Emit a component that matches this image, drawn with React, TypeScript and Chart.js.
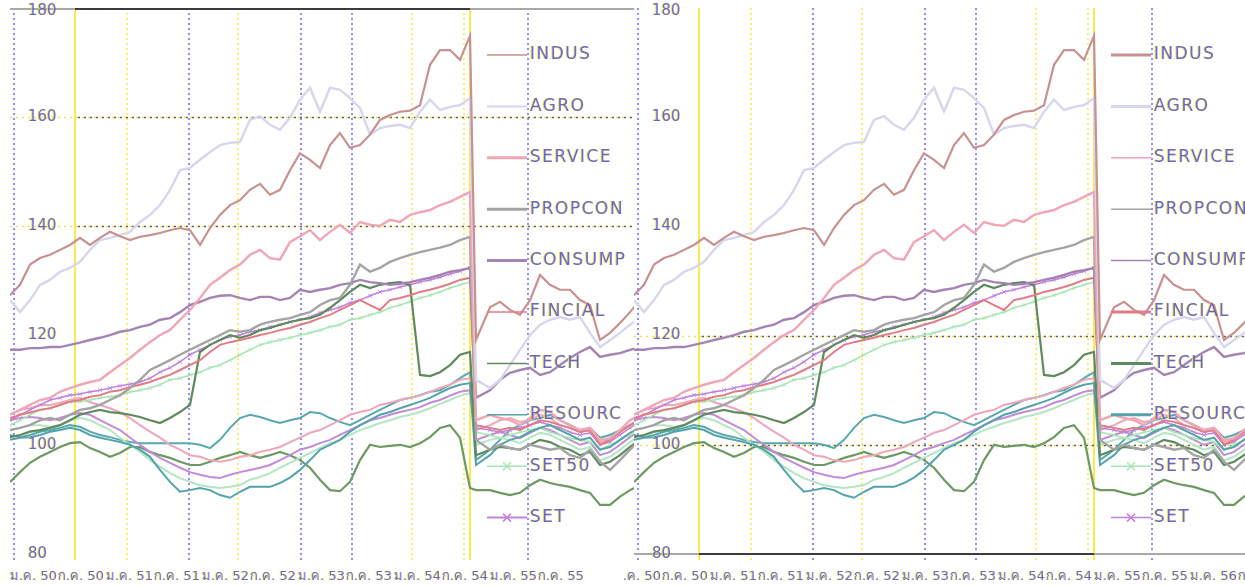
import React, { useEffect, useRef } from "react";
import { Chart, registerables } from "chart.js";

Chart.register(...registerables);

// trading-session index of every sample
const sessions: number[] = [
  0, 10, 20, 30, 40, 50, 60, 70, 80, 90, 100, 110, 120, 130, 140, 150, 160, 170, 180, 190,
  200, 210, 220, 230, 240, 250, 260, 270, 280, 290, 300, 310, 320, 330, 340, 350, 360, 370, 380, 390,
  400, 410, 420, 430, 440, 450, 460, 466, 480, 490, 500, 510, 520, 530, 540, 550, 560, 570, 580, 590,
  600, 610, 620, 630,
];

// legend shows the first ten series only
const seriesNames = ["INDUS", "AGRO", "SERVICE", "PROPCON", "CONSUMP", "FINCIAL", "TECH", "RESOURC", "SET50", "SET", "SET100", "sSET", "SETHD", "ENERG", "mai"];
const legendCount = 10;

const indus = [
  127.4, 129.3, 133.0, 134.2, 134.8, 135.7, 136.6, 137.9, 136.6, 137.9, 139.0, 138.2, 137.5, 138.1, 138.4, 138.8,
  139.3, 139.7, 139.3, 136.6, 139.7, 142.1, 143.9, 144.8, 146.7, 147.8, 145.8, 146.7, 150.3, 153.4, 152.2, 150.7,
  154.9, 157.1, 154.4, 154.9, 156.8, 159.5, 160.4, 161.0, 161.2, 162.2, 169.6, 172.3, 172.3, 170.5, 174.9, 119.2,
  125.2, 126.2, 124.7, 123.8, 126.5, 131.1, 129.3, 128.4, 128.4, 126.5, 125.6, 119.2, 120.5, 122.3, 124.3, 126.5,
];
const agro = [
  126.5, 124.3, 126.5, 129.3, 130.2, 131.7, 132.4, 133.5, 135.7, 137.5, 137.9, 138.4, 139.0, 140.8, 142.1, 143.9,
  146.7, 150.3, 150.7, 152.2, 153.6, 154.9, 155.3, 155.5, 159.5, 160.2, 158.6, 157.7, 159.9, 163.2, 165.4, 161.0,
  165.4, 165.0, 163.5, 161.7, 156.8, 158.0, 158.4, 158.6, 158.0, 161.0, 163.2, 161.3, 161.9, 162.2, 163.5, 111.9,
  110.4, 111.9, 114.6, 117.4, 120.1, 122.0, 122.9, 123.4, 122.9, 123.4, 120.5, 117.9, 119.2, 120.5, 122.0, 123.2,
];
const service = [
  105.5, 106.4, 107.3, 108.2, 108.6, 109.7, 110.4, 111.0, 111.5, 111.9, 113.3, 114.6, 115.9, 117.4, 118.8, 120.1,
  121.0, 122.9, 124.7, 126.9, 129.3, 130.6, 132.0, 133.0, 134.8, 135.7, 134.2, 133.9, 137.1, 138.2, 139.3, 137.5,
  139.0, 140.3, 138.8, 140.8, 140.3, 140.1, 141.2, 140.8, 142.1, 142.6, 143.0, 143.9, 144.5, 145.4, 146.3, 104.5,
  105.5, 104.9, 104.5, 103.6, 104.9, 106.4, 106.0, 104.5, 103.6, 102.7, 103.1, 100.9, 101.2, 102.7, 104.5, 105.5,
];
const propcon = [
  102.7, 103.1, 103.6, 104.5, 104.9, 104.5, 105.5, 106.4, 106.7, 107.3, 108.2, 109.1, 110.4, 111.9, 113.7, 114.6,
  115.5, 116.5, 117.4, 118.3, 119.2, 120.1, 121.0, 120.7, 121.0, 122.0, 122.5, 122.9, 123.2, 123.8, 124.3, 125.6,
  126.5, 126.9, 129.3, 133.0, 131.7, 132.4, 133.5, 134.2, 134.8, 135.3, 135.7, 136.1, 136.6, 137.5, 138.1, 100.9,
  99.1, 100.0, 99.4, 99.1, 100.0, 99.6, 99.1, 99.4, 98.1, 97.6, 99.1, 96.9, 95.4, 97.2, 99.1, 100.9,
];
const consump = [
  117.4, 117.4, 117.7, 117.7, 117.9, 117.9, 118.3, 118.7, 119.2, 119.6, 120.1, 120.7, 121.0, 121.6, 122.0, 122.9,
  123.2, 124.3, 125.6, 126.2, 126.9, 127.3, 127.4, 126.9, 126.5, 127.1, 127.1, 126.5, 126.9, 128.4, 128.0, 128.4,
  128.7, 129.3, 129.6, 130.2, 129.8, 129.6, 129.3, 129.5, 129.8, 130.2, 130.6, 131.1, 131.7, 132.0, 132.4, 108.6,
  110.0, 111.9, 113.2, 113.7, 114.1, 112.8, 113.3, 114.6, 115.9, 117.0, 117.9, 116.1, 116.5, 116.8, 117.4, 117.9,
];
const fincial = [
  104.9, 105.5, 105.9, 106.4, 106.7, 107.3, 107.9, 108.2, 108.8, 109.1, 109.7, 110.0, 110.6, 111.0, 111.5, 112.2,
  112.8, 113.7, 114.6, 115.5, 117.0, 118.3, 118.8, 119.2, 119.6, 120.1, 120.5, 121.0, 121.4, 122.0, 122.5, 123.2,
  123.8, 124.7, 125.6, 126.5, 125.6, 124.7, 126.5, 126.9, 127.4, 128.0, 128.4, 128.9, 129.5, 130.2, 130.6, 103.6,
  103.1, 102.7, 103.1, 102.7, 103.6, 104.5, 104.2, 103.6, 103.1, 102.3, 102.7, 100.0, 100.9, 102.3, 103.6, 104.5,
];
const tech = [
  101.4, 101.8, 102.4, 102.7, 103.1, 103.6, 104.5, 105.5, 106.0, 106.4, 106.0, 105.8, 105.5, 105.1, 104.5, 104.0,
  104.9, 106.0, 107.3, 117.0, 118.3, 119.2, 120.1, 119.6, 120.1, 121.0, 121.4, 122.0, 122.5, 122.9, 123.2, 123.8,
  125.1, 126.5, 128.0, 129.3, 128.7, 129.3, 129.6, 129.8, 129.3, 112.8, 112.6, 113.3, 114.6, 116.5, 117.0, 98.1,
  99.1, 99.6, 99.4, 99.1, 100.0, 100.9, 100.5, 99.6, 99.1, 98.1, 98.7, 96.3, 96.9, 98.1, 99.6, 100.9,
];
const resourc = [
  100.9, 101.3, 101.4, 101.8, 102.4, 102.7, 103.1, 102.7, 101.8, 101.3, 100.9, 100.5, 100.0, 99.1, 97.8, 95.4,
  93.2, 91.4, 91.7, 92.1, 91.7, 90.8, 90.3, 91.4, 92.3, 92.3, 92.3, 93.0, 94.0, 95.4, 97.2, 99.1,
  100.0, 100.9, 102.4, 103.6, 104.5, 105.5, 106.0, 106.7, 107.3, 107.9, 108.6, 109.5, 110.4, 111.0, 111.3, 96.3,
  98.1, 100.0, 100.9, 101.4, 102.4, 103.1, 103.6, 102.7, 101.8, 100.9, 101.3, 99.1, 99.6, 100.9, 102.2, 103.1,
];
const set50 = [
  103.6, 104.5, 105.5, 106.4, 106.7, 107.3, 107.9, 107.9, 108.2, 108.6, 108.8, 109.1, 109.7, 110.0, 110.4, 111.0,
  111.9, 112.2, 112.8, 113.3, 114.1, 114.6, 115.5, 116.5, 117.4, 118.3, 118.8, 119.2, 119.6, 120.1, 120.5, 121.0,
  121.6, 122.0, 122.9, 123.2, 123.8, 124.3, 125.1, 125.6, 126.2, 126.9, 127.4, 128.0, 128.7, 129.3, 129.8, 102.3,
  101.8, 101.2, 101.8, 102.3, 102.7, 103.1, 102.3, 101.8, 101.2, 100.9, 100.5, 99.1, 100.0, 100.9, 101.8, 102.7,
];
const setIdx = [
  104.5, 105.5, 106.4, 107.3, 108.2, 108.6, 109.1, 109.3, 109.7, 110.0, 110.4, 110.8, 111.1, 111.5, 112.2, 113.3,
  114.1, 115.2, 116.5, 117.4, 118.3, 119.2, 119.8, 120.1, 120.7, 121.0, 121.6, 122.0, 122.5, 122.9, 123.4, 124.2,
  124.7, 125.2, 126.0, 126.5, 127.3, 128.0, 128.4, 128.9, 129.3, 129.8, 130.2, 130.7, 131.3, 131.8, 132.4, 103.1,
  102.7, 102.3, 102.7, 103.1, 103.6, 104.2, 103.6, 103.1, 102.3, 101.8, 102.2, 100.0, 100.5, 101.8, 103.1, 104.2,
];
const set100 = [
  105.6, 106.4, 106.7, 107.3, 107.3, 107.7, 108.2, 108.6, 107.8, 107.3, 106.7, 106.0, 104.9, 103.6, 102.4, 101.3,
  100.0, 99.1, 98.1, 97.8, 97.2, 96.9, 97.2, 97.8, 98.1, 98.7, 99.1, 99.6, 100.5, 101.3, 102.2, 102.7,
  103.6, 104.5, 105.5, 106.0, 106.4, 107.3, 107.7, 108.2, 108.6, 109.0, 109.7, 110.4, 111.0, 111.9, 112.2, 102.7,
  103.6, 104.5, 104.9, 104.2, 104.5, 105.5, 104.9, 103.6, 103.1, 102.4, 102.7, 100.5, 100.9, 102.4, 103.6, 104.9,
];
const sset = [
  104.5, 104.9, 105.1, 104.9, 104.5, 104.9, 105.5, 105.8, 105.5, 104.5, 103.6, 102.7, 101.3, 100.0, 98.7, 97.6,
  96.7, 95.8, 95.0, 94.5, 94.1, 93.9, 94.5, 95.0, 95.4, 95.8, 96.3, 97.2, 98.1, 99.1, 99.6, 100.3,
  100.9, 101.8, 102.7, 103.6, 104.5, 104.9, 105.5, 106.0, 106.4, 106.9, 107.7, 108.2, 109.0, 109.7, 110.0, 100.9,
  101.8, 102.4, 101.8, 101.2, 102.2, 103.1, 102.7, 101.8, 100.9, 100.0, 100.5, 98.1, 98.7, 100.0, 101.4, 102.7,
];
const sethd = [
  102.7, 103.1, 103.6, 103.6, 103.3, 103.6, 104.5, 104.9, 104.5, 103.6, 102.7, 101.3, 100.0, 98.7, 97.2, 96.0,
  94.8, 93.9, 93.2, 92.6, 92.3, 92.1, 92.3, 92.6, 93.6, 94.1, 94.8, 95.8, 96.7, 97.6, 98.5, 99.4,
  100.3, 100.9, 101.8, 102.7, 103.3, 104.0, 104.5, 105.1, 105.5, 106.0, 106.7, 107.5, 108.2, 109.0, 109.5, 100.0,
  100.9, 101.3, 100.9, 100.3, 101.3, 102.2, 101.8, 100.9, 100.0, 99.1, 99.6, 97.2, 97.8, 99.1, 100.5, 101.8,
];
const energ = [
  101.8, 101.4, 101.8, 102.4, 102.7, 103.1, 103.6, 103.3, 102.4, 101.8, 101.4, 100.9, 100.5, 100.3, 100.3, 100.3,
  100.3, 100.3, 100.3, 100.0, 99.4, 100.9, 103.1, 104.9, 105.5, 105.1, 104.5, 104.0, 104.5, 104.9, 106.0, 105.8,
  104.9, 104.2, 103.6, 104.5, 105.5, 106.4, 107.3, 108.2, 108.6, 109.1, 109.7, 110.0, 111.0, 112.2, 113.3, 97.2,
  99.1, 100.9, 102.7, 103.6, 104.5, 104.9, 105.5, 104.5, 103.6, 102.7, 103.1, 101.3, 101.8, 102.7, 103.6, 104.5,
];
const mai = [
  93.2, 95.0, 96.7, 97.8, 98.7, 99.6, 100.3, 100.5, 99.4, 98.7, 97.8, 98.5, 99.6, 99.6, 98.7, 98.1,
  97.6, 96.9, 96.3, 96.3, 96.9, 97.6, 98.1, 98.7, 98.1, 97.6, 98.1, 98.7, 98.1, 97.2, 95.8, 93.6,
  91.7, 91.5, 93.2, 97.2, 100.0, 99.6, 99.8, 100.0, 99.6, 100.3, 101.4, 103.1, 103.6, 101.3, 92.1, 91.7,
  91.7, 91.2, 90.8, 91.2, 92.6, 93.6, 93.0, 92.6, 92.3, 91.7, 91.2, 89.0, 89.0, 90.5, 91.7, 92.6,
];

const seriesValues = [indus, agro, service, propcon, consump, fincial, tech, resourc, set50, setIdx, set100, sset, sethd, energ, mai];
const seriesColors = [
  "#c8908e", "#d6d6ee", "#f0a6b4", "#a4a4a4", "#a584b4", "#e07c84", "#5e8a5e", "#52a3aa", "#a9e6b4", "#c184dc",
  "#eea6b8", "#c48ad8", "#b4e6c4", "#58a8b0", "#6c9a60",
];
const seriesWidths = [2.2, 2.4, 2.4, 2.4, 2.4, 2, 2.2, 2, 1.6, 1.6, 2, 2, 2, 2, 2.2];
const markerSeries = ["SET50", "SET"];

// y-axis ticks
const yTicks = [80, 100, 120, 140, 160, 180];
// date gridlines (session index)
const blueGrid = [4, 179, 291, 342, 518];
const yellowDotGrid = [117, 228, 402, 454];
const yellowSolidGrid = [65, 460];
// x tick labels (session index + text)
const xLabelTexts = ["ม.ค. 50", "ก.ค. 50", "ม.ค. 51", "ก.ค. 51", "ม.ค. 52", "ก.ค. 52", "ม.ค. 53", "ก.ค. 53", "ม.ค. 54", "ก.ค. 54", "ม.ค. 55", "ก.ค. 55", "ม.ค. 56", "ก.ค. 56"];
const leftLabelSessions = [0, 48, 96, 144, 192, 240, 288, 336, 384, 432, 480, 528];
const rightLabelSessions = [-20, 28, 76, 124, 172, 220, 268, 316, 364, 412, 460, 508, 556, 604];

type Variant = "left" | "right";

const legendWidths: Record<Variant, number[]> = {
  left: [1.5, 2, 3, 3, 3, 1.5, 1.5, 1.5, 1.5, 2],
  right: [3, 3, 1.5, 1.5, 1.5, 3, 3, 3, 1.5, 1.5],
};
const hGrid: Record<Variant, number[]> = { left: [160, 140], right: [120, 100] };

const FONT = "'DejaVu Sans', 'Noto Sans', sans-serif";

function fringeText(ctx: CanvasRenderingContext2D, text: string, x: number, y: number) {
  ctx.fillStyle = "rgba(240,225,60,0.9)";
  ctx.fillText(text, x - 1, y);
  ctx.fillStyle = "rgba(80,80,220,0.85)";
  ctx.fillText(text, x, y);
}

function decorPlugin(variant: Variant) {
  return {
    id: "decor_" + variant,
    beforeDatasetsDraw(chart: any) {
      const { ctx, chartArea: a, scales } = chart;
      const xs = scales.x;
      const ys = scales.y;
      ctx.save();
      const vline = (s: number, color: string, dash: number[], w: number) => {
        const px = Math.round(xs.getPixelForValue(s));
        ctx.strokeStyle = color;
        ctx.lineWidth = w;
        ctx.setLineDash(dash);
        ctx.beginPath();
        ctx.moveTo(px, a.top);
        ctx.lineTo(px, a.bottom + 6);
        ctx.stroke();
      };
      blueGrid.forEach((s) => vline(s, "#8f90fb", [2, 3], 2));
      yellowDotGrid.forEach((s) => vline(s, "#fbee6a", [2, 3], 2));
      yellowSolidGrid.forEach((s) => vline(s, "#fbec4c", [], 2));
      hGrid[variant].forEach((v) => {
        const py = Math.round(ys.getPixelForValue(v)) + 0.5;
        ctx.lineWidth = 1.5;
        ctx.setLineDash([2, 4]);
        ctx.strokeStyle = "#f0e060";
        ctx.beginPath();
        ctx.moveTo(a.left, py);
        ctx.lineTo(a.right, py);
        ctx.stroke();
        ctx.lineDashOffset = 3;
        ctx.strokeStyle = "#606060";
        ctx.beginPath();
        ctx.moveTo(xs.getPixelForValue(yellowSolidGrid[0]), py);
        ctx.lineTo(a.right, py);
        ctx.stroke();
        ctx.lineDashOffset = 0;
      });
      ctx.setLineDash([]);
      const ay = variant === "left" ? a.top + 1 : a.bottom;
      ctx.lineWidth = 2;
      ctx.strokeStyle = "#a8a8a8";
      ctx.beginPath();
      ctx.moveTo(a.left, ay);
      ctx.lineTo(a.right, ay);
      ctx.stroke();
      ctx.strokeStyle = "#3a3a3a";
      ctx.beginPath();
      ctx.moveTo(xs.getPixelForValue(yellowSolidGrid[0]), ay);
      ctx.lineTo(xs.getPixelForValue(yellowSolidGrid[1]), ay);
      ctx.stroke();
      ctx.restore();
    },
    afterDatasetsDraw(chart: any) {
      const { ctx, chartArea: a, scales } = chart;
      const xs = scales.x;
      const ys = scales.y;
      ctx.save();
      ctx.font = "15px " + FONT;
      ctx.textAlign = "left";
      ctx.textBaseline = "middle";
      yTicks.forEach((t) => {
        const py = Math.max(ys.getPixelForValue(t), a.top + 3);
        fringeText(ctx, String(t), a.left + 18, py);
      });
      ctx.font = "13px " + FONT;
      const labelSessions = variant === "left" ? leftLabelSessions : rightLabelSessions;
      labelSessions.forEach((s, i) => {
        fringeText(ctx, xLabelTexts[i], xs.getPixelForValue(s), a.bottom + 23);
      });
      const datasets = chart.data.datasets.slice(0, legendCount);
      ctx.font = "17px " + FONT;
      try {
        (ctx as any).letterSpacing = "1.5px";
      } catch (e) {
        /* ignore */
      }
      datasets.forEach((ds: any, k: number) => {
        const cy = a.top + 47 + k * 51.4;
        ctx.strokeStyle = ds.borderColor;
        ctx.lineWidth = legendWidths[variant][k];
        ctx.beginPath();
        ctx.moveTo(477 + a.left, cy);
        ctx.lineTo(517 + a.left, cy);
        ctx.stroke();
        if (ds.pointRadius > 0) {
          ctx.lineWidth = 1.5;
          ctx.beginPath();
          const mx = 497 + a.left;
          ctx.moveTo(mx - 4, cy - 4);
          ctx.lineTo(mx + 4, cy + 4);
          ctx.moveTo(mx - 4, cy + 4);
          ctx.lineTo(mx + 4, cy - 4);
          ctx.stroke();
        }
        ctx.textBaseline = "middle";
        fringeText(ctx, ds.label, 520 + a.left, cy);
      });
      ctx.restore();
    },
  };
}

function Panel({ variant }: { variant: Variant }) {
  const ref = useRef<HTMLCanvasElement | null>(null);
  useEffect(() => {
    const canvas = ref.current;
    if (!canvas) return;
    const chart = new Chart(canvas, {
      type: "line",
      data: {
        datasets: seriesNames.map((name, k) => ({
          label: name,
          data: seriesValues[k].map((v, i) => ({ x: sessions[i], y: v })),
          borderColor: seriesColors[k],
          backgroundColor: seriesColors[k],
          borderWidth: seriesWidths[k],
          pointRadius: markerSeries.includes(name) ? 2.5 : 0,
          pointStyle: "crossRot",
          pointBorderWidth: 1,
          tension: 0,
          fill: false,
        })),
      },
      options: {
        animation: false,
        responsive: false,
        devicePixelRatio: 1,
        layout: { padding: { left: 10, right: 20, top: 8, bottom: 32 } },
        scales: {
          x: { type: "linear", min: 0, max: 630, display: false },
          y: { type: "linear", min: 80, max: 180, display: false },
        },
        plugins: { legend: { display: false }, tooltip: { enabled: false } },
      },
      plugins: [decorPlugin(variant)],
    });
    return () => chart.destroy();
  }, [variant]);
  return <canvas ref={ref} width={660} height={586} style={{ display: "block", width: 660, height: 586 }} />;
}

export default function App() {
  return (
    <div style={{ position: "fixed", left: 0, top: 0, width: 1245, height: 586, overflow: "hidden", background: "#ffffff" }}>
      <div style={{ position: "absolute", left: 0, top: 0, width: 634, height: 586, overflow: "hidden" }}>
        <Panel variant="left" />
      </div>
      <div style={{ position: "absolute", left: 600, top: 0, width: 645, height: 586, overflow: "hidden" }}>
        <div style={{ position: "absolute", left: 24, top: 0 }}>
          <Panel variant="right" />
        </div>
      </div>
    </div>
  );
}
